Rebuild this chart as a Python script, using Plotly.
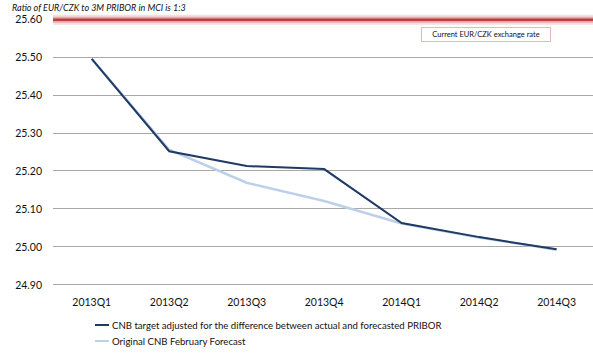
import plotly.graph_objects as go

# Quarterly path of EUR/CZK
quarters = ["2013Q1", "2013Q2", "2013Q3", "2013Q4", "2014Q1", "2014Q2", "2014Q3"]
cnb_adjusted = [25.495, 25.252, 25.213, 25.205, 25.063, 25.026, 24.994]
cnb_february = [25.495, 25.256, 25.169, 25.121, 25.062, 25.025, 24.993]
current_rate = 25.598

series_names = [
    "CNB target adjusted for the difference between actual and forecasted PRIBOR",
    "Original CNB February Forecast",
]
dark_blue = "#1f3a63"
light_blue = "#bcd0ea"
red = "#c0504d"
font = "Lato, Open Sans, sans-serif"
text_color = "#111"

fig = go.Figure()

# current exchange rate: soft glow plus core line
x_span = [-0.5, 6.47]
fig.add_trace(go.Scatter(x=x_span, y=[current_rate] * 2, mode="lines",
                         line=dict(color="rgba(192,80,77,0.18)", width=10),
                         showlegend=False, hoverinfo="skip"))
fig.add_trace(go.Scatter(x=x_span, y=[current_rate] * 2, mode="lines",
                         line=dict(color="rgba(192,80,77,0.35)", width=6),
                         showlegend=False, hoverinfo="skip"))
fig.add_trace(go.Scatter(x=x_span, y=[current_rate] * 2, mode="lines",
                         line=dict(color="#b8423f", width=2.5),
                         showlegend=False, hoverinfo="skip"))

fig.add_trace(go.Scatter(x=list(range(len(quarters))), y=cnb_february, mode="lines",
                         line=dict(color=light_blue, width=2.5), name=series_names[1],
                         showlegend=False))
fig.add_trace(go.Scatter(x=list(range(len(quarters))), y=cnb_adjusted, mode="lines",
                         line=dict(color=dark_blue, width=2), name=series_names[0],
                         showlegend=False))

fig.update_xaxes(
    range=[-0.5, 6.47], tickmode="array", tickvals=list(range(len(quarters))),
    ticktext=quarters, showgrid=False, zeroline=False, showline=False,
    tickfont=dict(family=font, size=10.5, color=text_color), ticks="",
    ticklabelstandoff=4,
)
fig.update_yaxes(
    range=[24.8868, 25.6237], tickmode="array",
    tickvals=[24.9, 25.0, 25.1, 25.2, 25.3, 25.4, 25.5, 25.6],
    tickformat=".2f", showgrid=True, gridcolor="#a8a8a8", gridwidth=1,
    zeroline=False, showline=False, ticks="", ticklabelstandoff=10,
    tickfont=dict(family=font, size=10.5, color=text_color),
)

# legend drawn beneath the axis
legend_rows = [(series_names[0], dark_blue, 325), (series_names[1], light_blue, 341)]
for label, color, ypix in legend_rows:
    yp = 1 - (ypix - 10) / 280
    fig.add_shape(type="line", xref="paper", yref="paper",
                  x0=(95 - 53) / 540, x1=(109 - 53) / 540, y0=yp, y1=yp,
                  line=dict(color=color, width=2))
    fig.add_annotation(text=label, xref="paper", yref="paper",
                       x=(110 - 53) / 540, y=yp, xanchor="left", yanchor="middle",
                       showarrow=False, font=dict(family=font, size=9.6, color=text_color))

# label for the current exchange rate
fig.add_annotation(text="Current EUR/CZK exchange rate", xref="paper", yref="paper",
                   x=(486 - 53) / 540, y=1 - (34 - 10) / 280, xanchor="center",
                   yanchor="middle", showarrow=False,
                   font=dict(family=font, size=7.5, color=text_color),
                   bordercolor="#e6b8b7", borderwidth=1, borderpad=2,
                   bgcolor="white", width=124)

# chart note at the top edge
fig.add_annotation(text="<i>Ratio of EUR/CZK to 3M PRIBOR in MCI is 1:3</i>",
                   xref="paper", yref="paper", x=-43 / 540, y=1 + 10 / 280,
                   xanchor="left", yanchor="top", showarrow=False,
                   font=dict(family=font, size=9, color=text_color))

fig.update_layout(
    width=593, height=354,
    margin=dict(l=53, r=0, t=10, b=64),
    plot_bgcolor="white", paper_bgcolor="white",
    showlegend=False,
)

fig.write_html("out.html")
